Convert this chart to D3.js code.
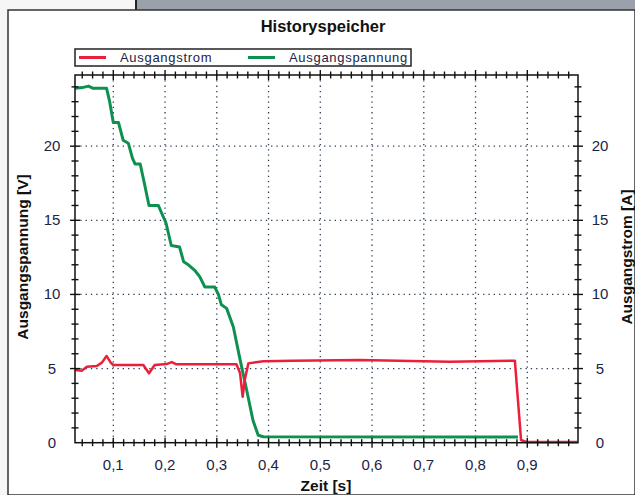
<!DOCTYPE html>
<html>
<head>
	<title>Historyspeicher</title>
	<script type="text/javascript" src="https://d3js.org/d3.v7.min.js"></script>
	<style>
		body { margin: 0; background: #fff; }
		text { font-family: "Liberation Sans", Arial, sans-serif; }
	</style>
</head>
<body>
	<script type="text/javascript">
		// Ausgangspannung (green) - time [s] and volts
		var timeV = [0.026, 0.040, 0.052, 0.061, 0.087, 0.093, 0.100, 0.110, 0.119, 0.129, 0.137, 0.142, 0.152,
			0.160, 0.169, 0.187, 0.202, 0.212, 0.228, 0.236, 0.245, 0.258, 0.267, 0.277, 0.296, 0.303, 0.309,
			0.319, 0.332, 0.345, 0.358, 0.370, 0.380, 0.390, 0.882];
		var voltage = [23.9, 23.95, 24.05, 23.9, 23.9, 23.0, 21.6, 21.6, 20.4, 20.2, 19.2, 18.8, 18.8,
			17.5, 16.0, 16.0, 14.8, 13.3, 13.2, 12.2, 12.0, 11.6, 11.2, 10.5, 10.5, 10.0, 9.3,
			9.06, 7.8, 5.6, 3.5, 1.5, 0.5, 0.4, 0.38];

		// Ausgangstrom (red) - time [s] and amps
		var timeA = [0.026, 0.039, 0.049, 0.068, 0.078, 0.087, 0.095, 0.100, 0.158, 0.169, 0.180, 0.203, 0.213,
			0.222, 0.338, 0.345, 0.350, 0.354, 0.361, 0.390, 0.447, 0.576, 0.750, 0.876, 0.888, 0.898, 0.997];
		var current = [4.9, 4.86, 5.12, 5.17, 5.4, 5.85, 5.4, 5.24, 5.24, 4.68, 5.24, 5.3, 5.44,
			5.29, 5.29, 4.68, 3.1, 4.23, 5.35, 5.49, 5.53, 5.58, 5.46, 5.53, 0.18, 0.05, 0.05];

		var xTicks = [0.1, 0.2, 0.3, 0.4, 0.5, 0.6, 0.7, 0.8, 0.9];
		var yTicks = [0, 5, 10, 15, 20];

		var W = 635, H = 495;
		var pLeft = 75, pRight = 578, pTop = 75, pBottom = 442.7;
		var ink = "#1b2444";

		var svg = d3.select("body").append("svg").attr("width", W).attr("height", H);

		// window chrome around the chart
		svg.append("rect").attr("width", W).attr("height", H).attr("fill", "#f6f6f6");
		svg.append("rect").attr("x", 136).attr("y", 0).attr("width", W - 136).attr("height", 10).attr("fill", "#9ba1aa");
		svg.append("line").attr("x1", 136).attr("x2", 136).attr("y1", 0).attr("y2", 10).attr("stroke", "#222").attr("stroke-width", 2);
		svg.append("rect").attr("x", 8).attr("y", 10).attr("width", W - 8).attr("height", H - 10)
			.attr("fill", "#fff").attr("stroke", "#333").attr("stroke-width", 1.5);

		var x = d3.scaleLinear().domain([0.026, 0.998]).range([pLeft, pRight]);
		var y = d3.scaleLinear().domain([0, 24.8]).range([pBottom, pTop]);

		// dotted grid
		svg.append("g").selectAll("line").data(xTicks).enter().append("line")
			.attr("x1", function (d) { return x(d); }).attr("x2", function (d) { return x(d); })
			.attr("y1", pTop).attr("y2", pBottom)
			.attr("stroke", "#2c3e55").attr("stroke-width", 1.3).attr("stroke-dasharray", "1.3,4");
		svg.append("g").selectAll("line").data(yTicks.slice(1)).enter().append("line")
			.attr("x1", pLeft).attr("x2", pRight)
			.attr("y1", function (d) { return y(d); }).attr("y2", function (d) { return y(d); })
			.attr("stroke", "#2c3e55").attr("stroke-width", 1.3).attr("stroke-dasharray", "1.3,4");

		// lines
		var line = d3.line()
			.x(function (d) { return x(d[0]); })
			.y(function (d) { return y(d[1]); });

		svg.append("path").datum(d3.zip(timeV, voltage))
			.attr("d", line).attr("fill", "none").attr("stroke", "#0e9150").attr("stroke-width", 3)
			.attr("stroke-linejoin", "round");
		svg.append("path").datum(d3.zip(timeA, current))
			.attr("d", line).attr("fill", "none").attr("stroke", "#ec1f3a").attr("stroke-width", 2.5)
			.attr("stroke-linejoin", "round");

		// plot frame
		svg.append("rect").attr("x", pLeft).attr("y", pTop).attr("width", pRight - pLeft).attr("height", pBottom - pTop)
			.attr("fill", "none").attr("stroke", "#111").attr("stroke-width", 1.5);

		// ticks crossing the frame on all sides
		var xMinor = d3.range(0.04, 0.99, 0.02);
		var yMinor = d3.range(1, 25, 1);
		function isMajor(v, step) { return Math.abs(v / step - Math.round(v / step)) < 1e-6; }

		var tk = svg.append("g").attr("stroke", "#111").attr("stroke-width", 1.4);
		xMinor.forEach(function (v) {
			var s = isMajor(v, 0.1) ? 5 : 3.5;
			[pBottom, pTop].forEach(function (yy) {
				tk.append("line").attr("x1", x(v)).attr("x2", x(v)).attr("y1", yy - s).attr("y2", yy + s);
			});
		});
		yMinor.forEach(function (v) {
			var s = isMajor(v, 5) ? 5 : 3.5;
			[pLeft, pRight].forEach(function (xx) {
				tk.append("line").attr("x1", xx - s).attr("x2", xx + s).attr("y1", y(v)).attr("y2", y(v));
			});
		});

		// tick labels
		var fmt = function (d) { return d3.format(".1f")(d).replace(".", ","); };
		svg.append("g").selectAll("text").data(xTicks).enter().append("text")
			.attr("x", function (d) { return x(d); }).attr("y", 470)
			.attr("text-anchor", "middle").attr("font-size", 15).attr("fill", ink)
			.text(fmt);
		[52, 600].forEach(function (cx) {
			svg.append("g").selectAll("text").data(yTicks).enter().append("text")
				.attr("x", cx).attr("y", function (d) { return y(d) + 5; })
				.attr("text-anchor", "middle").attr("font-size", 15).attr("fill", ink)
				.text(function (d) { return d; });
		});

		// titles
		svg.append("text").attr("x", 323).attr("y", 32).attr("text-anchor", "middle")
			.attr("font-size", 16.5).attr("font-weight", "bold").attr("fill", "#111").text("Historyspeicher");
		svg.append("text").attr("x", 326).attr("y", 491).attr("text-anchor", "middle")
			.attr("font-size", 15.5).attr("font-weight", "bold").attr("fill", "#111").text("Zeit [s]");
		svg.append("text").attr("transform", "translate(28,257) rotate(-90)").attr("text-anchor", "middle")
			.attr("font-size", 15.5).attr("font-weight", "bold").attr("fill", "#111").text("Ausgangspannung [V]");
		svg.append("text").attr("transform", "translate(632,257) rotate(-90)").attr("text-anchor", "middle")
			.attr("font-size", 15.5).attr("font-weight", "bold").attr("fill", "#111").text("Ausgangstrom [A]");

		// legend
		var lg = svg.append("g");
		lg.append("rect").attr("x", 75).attr("y", 49).attr("width", 336).attr("height", 17)
			.attr("fill", "#fff").attr("stroke", "#222").attr("stroke-width", 1.5);
		var items = [["Ausgangstrom", "#ec1f3a", 79], ["Ausgangspannung", "#0e9150", 248]];
		items.forEach(function (it) {
			lg.append("line").attr("x1", it[2]).attr("x2", it[2] + 27).attr("y1", 57.5).attr("y2", 57.5)
				.attr("stroke", it[1]).attr("stroke-width", 3);
			lg.append("text").attr("x", it[2] + 41).attr("y", 62).attr("font-size", 13)
				.attr("letter-spacing", 0.7).attr("fill", ink).text(it[0]);
		});
	</script>
</body>
</html>
